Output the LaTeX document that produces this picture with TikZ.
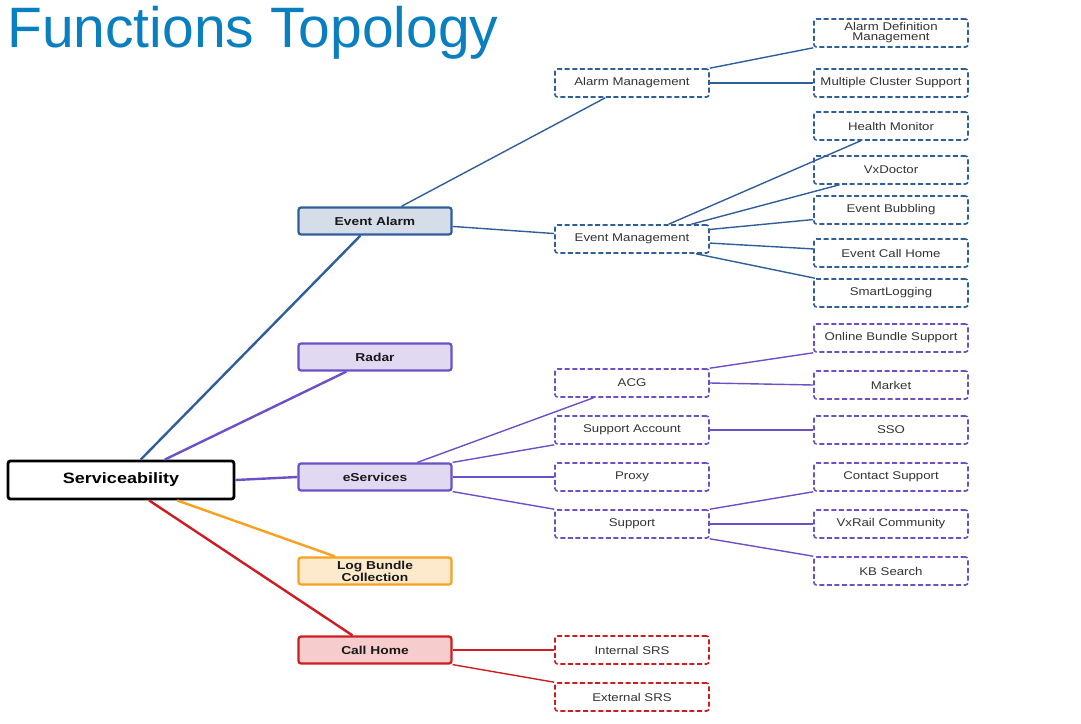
\documentclass[tikz,border=0pt]{standalone}
\usepackage{fontspec}
\setmainfont{Liberation Sans}
\newfontfamily\boxfont[FakeStretch=1.18]{Liberation Sans}
\newfontfamily\boxbold[FakeStretch=1.2]{Liberation Sans Bold}
\usetikzlibrary{positioning}

\definecolor{ttlblue}{HTML}{0A7FBF}
\definecolor{eablue}{HTML}{2F5E9B}
\definecolor{eafill}{HTML}{D5DDE9}
\definecolor{espurple}{HTML}{6C50C8}
\definecolor{esfill}{HTML}{E1D9F2}
\definecolor{lborange}{HTML}{F7A11E}
\definecolor{lbfill}{HTML}{FDE9CB}
\definecolor{chred}{HTML}{CC1E22}
\definecolor{chfill}{HTML}{F6CCCD}
\definecolor{txtgray}{HTML}{333333}

\begin{document}
\begin{tikzpicture}[x=1pt, y=-1pt,
  rootbox/.style={draw=black, line width=2.8pt, rounded corners=2.5pt, fill=white, minimum width=226pt, minimum height=38pt, inner sep=0pt, font=\boxbold\fontsize{15}{15}\selectfont},
  mainbox/.style={draw=#1, line width=2.2pt, rounded corners=2.5pt, minimum width=153pt, minimum height=27pt, inner sep=0pt, align=center, text=black!90, font=\boxbold\fontsize{11.5}{9.8}\selectfont},
  subbox/.style={draw=#1, dash pattern=on 5pt off 2.6pt, line width=1.6pt, rounded corners=2.5pt, fill=white, minimum width=154pt, minimum height=28pt, inner sep=0pt, align=center, text=txtgray, font=\boxfont\fontsize{11.2}{10}\selectfont},
  lnk/.style={draw=#1, line width=1.4pt},
  rootlnk/.style={draw=#1, line width=2.4pt}
]
\useasboundingbox (0,0) rectangle (1081,723);

\node[anchor=west, text=ttlblue, inner sep=0pt, font=\fontsize{57}{57}\selectfont] (title) at (7,33) {Functions Topology};

% root and first level
\node[rootbox] (serv) at (121,480) {Serviceability};
\node[mainbox=eablue, fill=eafill] (ea) at (375,221) {Event Alarm};
\node[mainbox=espurple, fill=esfill] (radar) at (375,357) {Radar};
\node[mainbox=espurple, fill=esfill] (es) at (375,477) {eServices};
\node[mainbox=lborange, fill=lbfill] (lb) at (375,571) {Log Bundle\\Collection};
\node[mainbox=chred, fill=chfill] (ch) at (375,650) {Call Home};

% event alarm branch
\node[subbox=eablue] (am) at (632,83) {Alarm Management};
\node[subbox=eablue] (em) at (632,239) {Event Management};
\node[subbox=eablue] (adm) at (891,33) {Alarm Definition\\Management};
\node[subbox=eablue] (mcs) at (891,83) {Multiple Cluster Support};
\node[subbox=eablue] (hm) at (891,126) {Health Monitor};
\node[subbox=eablue] (vxd) at (891,170) {VxDoctor};
\node[subbox=eablue] (eb) at (891,210) {Event Bubbling};
\node[subbox=eablue] (ech) at (891,253) {Event Call Home};
\node[subbox=eablue] (sl) at (891,293) {SmartLogging};

% eservices branch
\node[subbox=espurple] (acg) at (632,383) {ACG};
\node[subbox=espurple] (sa) at (632,430) {Support Account};
\node[subbox=espurple] (proxy) at (632,477) {Proxy};
\node[subbox=espurple] (sup) at (632,524) {Support};
\node[subbox=espurple] (obs) at (891,338) {Online Bundle Support};
\node[subbox=espurple] (mkt) at (891,385) {Market};
\node[subbox=espurple] (sso) at (891,430) {SSO};
\node[subbox=espurple] (cs) at (891,477) {Contact Support};
\node[subbox=espurple] (vxr) at (891,524) {VxRail Community};
\node[subbox=espurple] (kb) at (891,571) {KB Search};

% call home branch
\node[subbox=chred] (isrs) at (632,650) {Internal SRS};
\node[subbox=chred] (esrs) at (632,697) {External SRS};

% connectors
\draw[rootlnk=eablue] (serv.46) -- (ea.225);
\draw[rootlnk=espurple] (serv.25) -- (radar.207);
\draw[rootlnk=espurple] (serv.east) -- (es.west);
\draw[rootlnk=lborange] (serv.340) -- (lb.160);
\draw[rootlnk=chred] (serv.324) -- (ch.147);

\draw[lnk=eablue] (ea.29) -- (am.209);
\draw[lnk=eablue] (ea.356) -- (em.176);
\draw[lnk=eablue] (am.north east) -- (adm.south west);
\draw[lnk=eablue] (am.east) -- (mcs.west);
\draw[lnk=eablue] (em.22) -- (hm.206);
\draw[lnk=eablue] (em.14) -- (vxd.196);
\draw[lnk=eablue] (em.7) -- (eb.187);
\draw[lnk=eablue] (em.357) -- (ech.177);
\draw[lnk=eablue] (em.347) -- (sl.169);

\draw[lnk=espurple] (es.19) -- (acg.201);
\draw[lnk=espurple] (es.north east) -- (sa.south west);
\draw[lnk=espurple] (es.east) -- (proxy.west);
\draw[lnk=espurple] (es.south east) -- (sup.north west);
\draw[lnk=espurple] (acg.north east) -- (obs.south west);
\draw[lnk=espurple] (acg.east) -- (mkt.west);
\draw[lnk=espurple] (sa.east) -- (sso.west);
\draw[lnk=espurple] (sup.north east) -- (cs.south west);
\draw[lnk=espurple] (sup.east) -- (vxr.west);
\draw[lnk=espurple] (sup.south east) -- (kb.north west);

\draw[lnk=chred] (ch.east) -- (isrs.west);
\draw[lnk=chred] (ch.south east) -- (esrs.north west);
\end{tikzpicture}
\end{document}
